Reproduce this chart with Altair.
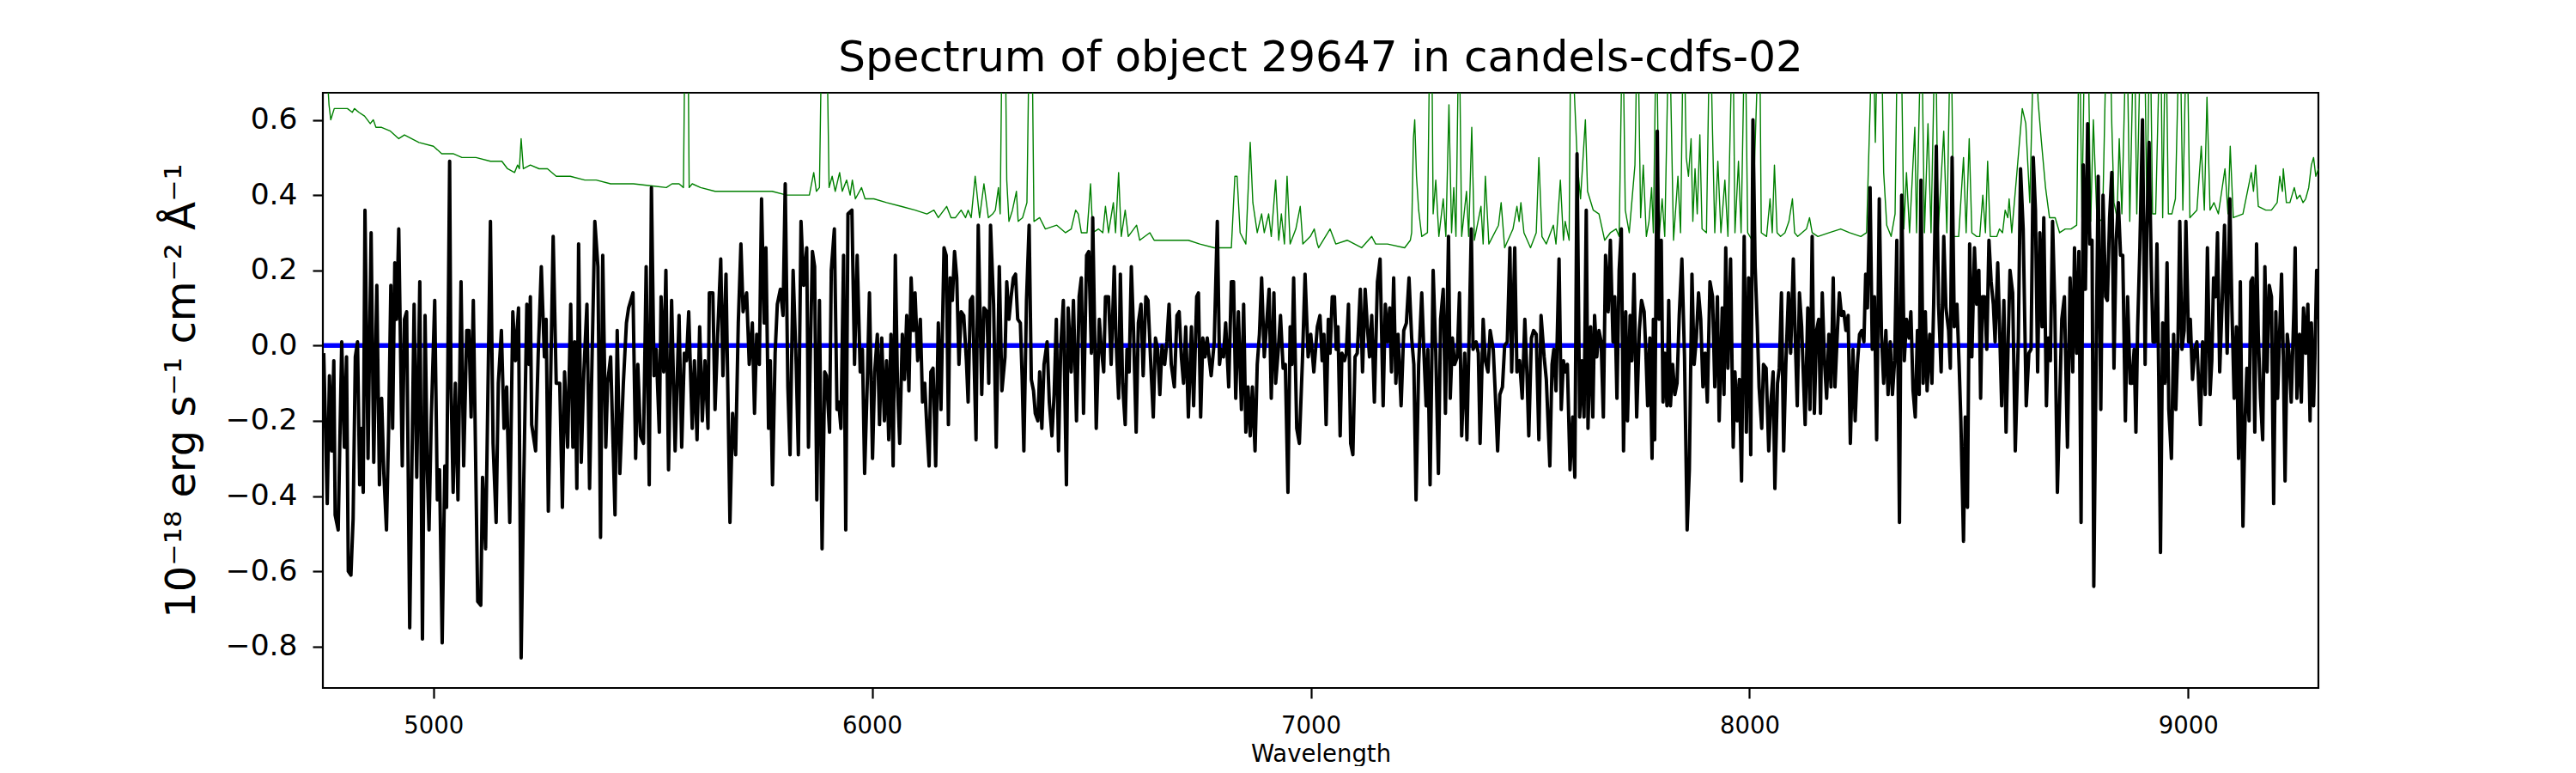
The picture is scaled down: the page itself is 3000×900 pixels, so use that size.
import altair as alt
import pandas as pd

# ---------------- data ----------------
# observed flux (black), wavelength in Angstrom
flux_wave = [
    4750,4758,4763,4768,4773,4776,4783,4791,4797,4802,
    4806,4812,4817,4822,4827,4832,4836,4840,4844,4851,
    4858,4864,4871,4877,4882,4887,4893,4898,4903,4907,
    4912,4916,4921,4929,4934,4939,4946,4956,4962,4969,
    4975,4981,4986,4990,4995,5003,5009,5014,5020,5026,
    5030,5037,5040,5045,5050,5056,5063,5069,5076,5081,
    5086,5091,5101,5108,5112,5119,5130,5136,5143,5148,
    5155,5161,5167,5174,5181,5187,5194,5200,5206,5213,
    5218,5221,5224,5233,5239,5246,5253,5257,5262,5273,
    5280,5288,5294,5299,5306,5313,5318,5322,5327,5331,
    5337,5343,5350,5356,5360,5368,5375,5381,5386,5393,
    5397,5404,5414,5419,5425,5433,5440,5445,5455,5461,
    5466,5472,5479,5485,5492,5497,5503,5508,5515,
    5519,5525,5530,5536,5543,5551,5560,5566,5572,5577,
    5582,5590,5595,5601,5607,5613,5619,5626,5629,5637,
    5642,5648,5655,5660,5667,5676,5682,5689,5695,5701,
    5706,5714,5720,5727,5732,5737,5743,5748,5754,5758,
    5764,5768,5773,5779,5784,5791,5797,5802,5808,5813,
    5820,5827,5832,5838,5844,5851,5855,5864,5869,5874,
    5880,5886,5892,5896,5903,5907,5914,5920,5924,5929,
    5935,5940,5945,5954,5960,5966,5973,5978,5983,5989,
    5994,6001,6006,6012,6017,6022,6028,6033,6038,6043,
    6048,6053,6058,6063,6069,6074,6079,6084,6089,6094,
    6098,6104,6110,6115,6120,6125,6130,6134,6139,6145,
    6151,6157,6164,6169,6174,6178,6183,6188,6193,6198,
    6203,6209,6215,6219,6224,6229,6237,6242,6250,6255,
    6262,6266,6270,
    6277,6283,6290,6296,6303,6307,6312,6317,6322,6327,
    6332,6338,6342,6346,6352,6358,6363,6368,6372,6378,
    6382,6387,6392,6399,6404,6410,6415,6420,6425,6430,
    6436,6443,6447,6454,6459,6466,6472,6477,6482,6489,
    6494,6500,6503,6511,6518,6522,6528,6532,6539,6545,
    6552,6556,6562,6566,6571,6577,6581,6586,6591,6596,
    6602,6607,6613,6618,6624,6629,6635,6641,6646,6651,
    6656,6661,6667,6672,6677,6682,6689,6695,6700,6705,
    6710,6715,6721,6728,6733,6740,6744,6749,6754,6759,
    6764,6769,6773,6780,6787,6792,6796,6801,6806,6813,
    6819,6824,6829,6835,6842,6847,6852,6857,6862,6867,
    6873,6878,6883,6888,6894,6899,6905,6910,6916,6920,
    6926,6931,6937,6942,6948,6953,6957,6961,6968,6974,
    6981,6987,6994,7000,7007,7015,7021,
    7026,7030,7035,7040,7044,7049,7054,7058,7062,7067,
    7071,7077,7081,7086,7091,7096,7101,7106,7113,7118,
    7124,7129,7134,7139,7145,7152,7158,7165,7170,7175,
    7180,7184,7189,7194,7199,7206,7212,7218,7224,7230,
    7235,7240,7246,7253,7258,7263,7267,7272,7279,7285,
    7291,7296,7302,7307,7314,7318,7323,7328,7334,7339,
    7344,7351,7356,7360,7366,7370,7377,7382,7386,7393,
    7398,7404,7409,7416,7420,7426,7431,7437,7442,7448,
    7454,7458,7465,7470,7476,7482,7488,7493,7497,7503,
    7508,7514,7520,7525,7532,7537,7545,7550,7554,7559,
    7566,7571,7576,7580,7585,7591,7597,7602,7607,7613,
    7618,7623,7628,7632,7638,7643,7647,7652,7657,7662,
    7667,7672,7678,7683,7689,7693,7698,7703,7708,7713,
    7718,7722,7728,7732,7737,7743,7749,7754,7760,7764,
    7768,7773,7778,
    7781,7784,7790,7794,7799,7803,7807,7812,7816,7820,
    7825,7830,7835,7840,7846,7852,7858,7863,7869,7874,
    7879,7884,7889,7894,7899,7904,7910,7916,7921,7927,
    7931,7938,7942,7946,7951,7957,7963,7967,7972,7977,
    7982,7988,7993,7998,8003,8008,8013,8018,8022,8028,
    8032,8038,8044,8049,8054,8058,8064,8068,8073,8078,
    8083,8089,8094,8100,8104,8109,8114,8119,8127,8133,
    8138,8143,8148,8153,8158,8162,8166,8171,8176,8181,
    8186,8191,8195,8201,8205,8210,8215,8220,8225,8230,
    8236,8241,8246,8251,8256,8261,8265,8269,8275,8280,
    8285,8290,8296,8301,8306,8311,8316,8321,8326,8331,
    8336,8342,8347,8353,8358,8364,8368,8373,8378,8383,
    8387,8391,8396,8401,8405,8411,8416,8420,8426,8431,
    8437,8443,8448,8454,8458,8462,8467,8473,8478,8482,
    8488,8492,8497,8502,8507,8513,8518,8523,8527,8531,
    8536,8541,8546,8551,8556,8560,8566,8570,8575,8580,
    8585,8590,8594,8600,8606,8613,8618,8624,8631,8637,
    8642,8647,8652,8657,8662,8667,8671,8677,8681,8686,
    8691,8696,8702,8707,8712,8718,8725,8731,8737,8741,
    8746,8751,8756,8761,8766,8771,8776,8781,8785,8791,
    8795,8801,8806,8812,8816,8821,8826,8831,8836,8841,
    8846,8851,8857,8862,8868,8872,8877,8881,8885,8890,
    8896,8902,8906,8911,8916,8920,8925,8929,8933,8937,
    8942,8947,8952,8956,8962,8967,8972,8977,8981,8986,
    8991,8995,9001,9005,9010,9015,9020,9028,9033,9039,
    9044,9050,9054,9058,9063,9067,9072,9078,9083,9089,
    9095,9100,9105,9110,9115,9119,9125,9130,9134,9139,
    9143,9147,9152,9156,9160,9165,9170,9175,9180,9185,
    9190,9195,9200,9204,9208,9213,9217,9221,9226,9230,
    9235,9241,9244,9248,9254,9258,9263,9268,9273,9278,
    9281,9286,9289,9293,9297,
]
flux_value = [
    -0.02,-0.42,-0.08,-0.28,-0.04,-0.45,-0.49,0.01,-0.27,-0.03,
    -0.60,-0.61,-0.46,-0.03,0.01,-0.37,-0.22,-0.39,0.36,-0.30,
    0.30,-0.31,0.16,-0.37,-0.14,-0.34,-0.49,-0.22,0.16,-0.22,
    0.22,0.07,0.31,-0.32,0.07,0.09,-0.75,0.11,-0.35,0.17,
    -0.78,0.08,-0.33,-0.49,-0.20,0.12,-0.41,-0.33,-0.79,-0.32,
    -0.43,0.49,-0.10,-0.39,-0.10,-0.41,0.17,-0.32,0.04,0.04,
    -0.19,0.12,-0.68,-0.69,-0.35,-0.54,0.33,-0.26,-0.47,-0.10,
    0.04,-0.22,-0.11,-0.47,0.09,-0.04,0.10,-0.83,-0.36,0.11,
    -0.05,0.13,-0.21,-0.28,-0.02,0.21,-0.03,0.07,-0.44,0.29,
    -0.10,-0.10,-0.43,-0.07,-0.27,0.11,-0.27,0.01,-0.38,0.27,
    -0.31,-0.07,0.11,-0.38,-0.13,0.33,0.21,-0.51,0.24,-0.27,
    -0.10,-0.03,-0.45,0.04,-0.34,-0.10,0.06,0.10,0.14,-0.30,
    -0.05,-0.24,-0.26,0.21,-0.37,0.42,-0.08,-0.01,-0.23,
    0.13,-0.07,0.20,-0.33,0.12,-0.28,0.08,-0.27,-0.02,-0.04,
    0.09,-0.22,-0.04,-0.25,0.05,-0.20,-0.04,-0.22,0.14,0.14,
    -0.17,0.03,0.23,-0.08,0.19,-0.47,-0.18,-0.29,0.06,0.27,
    0.09,0.14,-0.05,0.06,-0.18,0.03,-0.05,0.39,0.06,0.26,
    -0.22,-0.04,-0.37,-0.02,0.11,0.15,0.08,0.43,-0.11,-0.29,
    0.20,-0.05,-0.29,0.33,0.16,0.26,-0.27,0.25,0.21,-0.41,
    0.12,-0.54,-0.07,-0.08,-0.23,0.20,0.31,-0.17,-0.15,-0.22,
    0.24,-0.49,0.35,0.36,-0.05,0.24,-0.07,-0.01,-0.34,-0.10,
    0.14,-0.30,-0.07,0.03,-0.21,0.02,-0.20,-0.04,-0.25,0.03,
    -0.32,0.24,-0.11,-0.26,0.03,-0.09,0.08,-0.12,0.18,0.04,
    0.14,-0.04,0.07,-0.15,-0.10,-0.22,-0.32,-0.07,-0.06,-0.32,
    0.06,-0.17,0.26,0.24,-0.21,0.18,0.12,0.25,0.18,-0.05,
    0.09,0.08,-0.04,-0.15,0.12,0.13,-0.25,0.32,-0.13,0.10,
    0.09,-0.10,0.32,
    0.11,-0.27,0.21,-0.12,-0.03,0.17,0.07,0.13,0.18,0.19,
    0.07,0.06,-0.08,-0.28,0.12,0.32,-0.09,-0.12,-0.18,-0.20,
    -0.07,-0.22,-0.05,0.01,-0.15,-0.24,-0.13,0.07,-0.28,-0.01,
    0.12,-0.37,0.10,-0.07,0.12,-0.20,0.13,0.18,-0.18,0.24,
    0.25,-0.02,0.34,-0.22,0.07,0.00,-0.07,0.13,0.13,-0.05,
    0.21,0.02,-0.14,0.19,-0.10,-0.21,-0.01,-0.07,0.21,0.04,
    -0.23,0.06,0.11,-0.08,0.13,0.12,-0.04,-0.19,0.02,-0.01,
    -0.13,0.00,-0.05,0.01,0.11,-0.05,-0.11,0.08,0.09,-0.03,
    -0.10,0.05,-0.19,0.05,-0.16,0.13,0.14,-0.19,0.02,-0.03,
    0.02,-0.04,-0.08,0.01,0.33,-0.05,-0.01,-0.03,0.06,-0.11,
    0.17,0.17,-0.14,0.09,-0.17,0.11,-0.23,-0.11,-0.24,-0.11,
    -0.28,-0.05,0.03,0.18,-0.03,0.05,0.15,-0.14,0.14,-0.10,
    -0.01,0.08,-0.06,-0.05,-0.39,0.05,-0.05,0.18,-0.22,-0.26,
    -0.04,0.19,-0.03,0.03,-0.07,0.05,0.08,
    -0.04,0.03,-0.21,0.07,-0.02,0.13,0.13,-0.01,0.05,-0.24,
    -0.02,-0.04,-0.02,0.11,-0.26,-0.29,-0.03,-0.02,0.15,-0.07,
    0.15,0.05,-0.03,0.08,-0.15,0.17,0.23,-0.16,0.11,0.01,
    0.10,-0.07,0.18,-0.10,0.03,-0.16,0.04,0.06,0.18,0.02,
    -0.05,-0.41,-0.05,0.14,-0.02,-0.16,-0.01,-0.37,0.20,-0.02,
    -0.34,0.07,0.15,-0.18,0.29,-0.14,0.02,-0.05,-0.03,0.14,
    -0.24,-0.02,-0.25,-0.03,0.31,-0.01,0.01,-0.02,-0.26,0.07,
    -0.04,-0.07,0.04,-0.01,-0.11,-0.28,-0.13,-0.11,0.00,0.01,
    0.26,-0.07,0.26,-0.07,-0.04,-0.14,0.07,-0.08,-0.24,0.02,
    0.04,0.03,-0.25,0.08,-0.03,-0.09,-0.32,-0.05,-0.01,-0.12,
    0.23,-0.17,-0.04,-0.07,-0.05,-0.33,-0.19,-0.35,0.51,-0.19,
    -0.04,-0.19,0.36,-0.22,0.05,-0.19,0.08,-0.03,0.04,0.01,
    -0.19,0.24,0.09,0.28,0.01,0.13,-0.14,0.20,0.31,-0.28,
    0.09,-0.20,0.08,-0.04,0.19,-0.19,0.04,0.12,0.09,-0.02,
    -0.16,0.02,-0.30,
    0.07,-0.25,0.57,0.07,0.28,-0.15,-0.02,-0.16,0.12,-0.16,
    -0.05,-0.13,-0.10,0.08,0.23,-0.03,-0.49,-0.33,0.19,-0.05,
    0.02,0.14,0.07,-0.11,-0.02,-0.15,0.17,0.13,-0.11,0.13,
    -0.20,0.10,-0.13,0.26,-0.06,0.23,-0.27,-0.07,-0.20,-0.09,
    -0.36,0.29,-0.23,0.18,-0.29,0.60,0.21,0.05,-0.11,-0.22,
    -0.05,-0.06,-0.28,-0.15,-0.07,-0.38,-0.10,-0.06,0.14,-0.28,
    -0.05,0.14,-0.02,0.23,0.04,-0.16,0.14,0.05,-0.21,0.10,
    -0.17,0.29,-0.18,0.04,0.07,-0.18,0.14,-0.04,-0.14,0.03,
    -0.11,0.18,-0.11,0.05,0.14,0.08,0.09,0.04,0.08,-0.26,
    -0.01,-0.20,-0.05,0.03,0.04,0.01,0.19,0.10,0.42,-0.01,
    0.13,-0.25,0.39,0.03,-0.10,0.04,-0.13,0.01,-0.13,-0.04,
    0.28,-0.47,0.40,-0.04,0.07,0.02,0.09,-0.12,-0.19,0.04,
    -0.13,0.44,-0.10,0.09,-0.12,0.03,-0.10,0.11,0.53,0.11,
    -0.07,0.29,0.10,0.04,-0.06,0.50,0.05,0.11,-0.05,-0.20,
    -0.52,-0.19,-0.43,0.27,-0.03,0.26,0.11,0.20,-0.14,0.13,
    0.13,-0.01,0.28,0.17,0.11,0.01,0.22,0.06,-0.16,0.12,
    -0.23,0.02,0.20,0.14,-0.28,0.02,0.47,0.31,-0.16,-0.02,
    -0.01,0.50,0.36,-0.07,0.30,0.05,0.34,-0.16,0.02,-0.04,
    0.33,0.11,-0.39,-0.16,0.07,0.13,-0.27,0.18,-0.07,0.26,
    -0.02,0.25,-0.47,0.48,0.15,0.59,0.27,0.28,-0.64,0.04,
    0.45,-0.17,0.40,0.13,0.12,0.34,0.46,-0.06,0.28,0.38,
    0.24,0.24,-0.20,0.13,-0.10,-0.10,-0.01,-0.23,0.05,0.26,
    0.60,-0.05,0.31,0.54,0.21,0.01,0.01,0.27,-0.08,-0.55,
    0.06,-0.10,0.22,-0.17,-0.30,0.03,-0.17,0.02,0.33,-0.01,
    0.04,0.33,0.01,0.07,-0.09,-0.01,0.01,-0.21,0.01,-0.13,
    0.26,-0.13,-0.04,0.18,0.13,0.30,-0.07,0.13,0.32,-0.02,
    0.39,0.09,-0.14,0.05,-0.30,0.17,-0.48,-0.19,-0.06,-0.20,
    0.17,0.18,-0.23,0.27,0.03,-0.14,-0.25,0.21,-0.07,0.16,
    0.13,-0.42,0.09,-0.14,0.01,0.19,-0.03,-0.36,0.03,-0.02,
    -0.15,0.09,0.26,-0.14,0.03,-0.15,0.10,-0.02,0.11,-0.20,
    0.06,-0.16,-0.03,0.20,0.07,
]

# noise / sky spectrum (green); values above the frame are clipped
noise_wave = [
    4749,4758,4762,4766,4774,4791,4804,4815,4820,4830,
    4843,4856,4863,4869,4882,4902,4921,4934,4967,5000,
    5019,5045,5065,5097,5130,5156,5169,5185,5192,5196,
    5200,5205,5221,5241,5260,5280,5312,5345,5371,5404,
    5456,
    5531,5544,5560,5570,5574,5580,5583,5590,5609,5642,
    5675,5707,5740,5772,5805,5857,5867,5873,5880,5886,
    5896,5902,5909,5916,5926,5932,5942,5950,5955,5962,
    5976,5984,6004,6033,6066,6098,6125,6141,6151,6170,
    6180,6190,6203,6213,6219,6226,6235,6245,6255,6265,
    6275,6281,6288,6292,6297,6303,6307,6312,6320,6329,
    6333,6343,6353,6359,6364,6369,6382,6395,6421,6441,
    6454,6464,6470,6477,6490,6498,6503,6516,6526,6532,
    6539,6550,6555,6562,6568,6577,6584,6603,6610,6633,
    6643,6669,6695,6721,6747,6780,6819,6827,6832,6839,
    6852,6862,6868,6878,6888,6894,6904,6910,6920,6927,
    6933,6940,6946,6953,6966,6976,6982,6999,7008,7015,
    7018,7044,7057,7083,7116,7139,7148,7175,7214,7227,
    7230,7234,7237,7241,7246,7253,7266,7272,7276,7279,
    7285,7292,7302,7308,7315,7321,7326,7331,7338,7344,
    7355,7360,7367,7373,7388,7393,7398,7406,7428,7434,
    7442,7461,7470,7475,7479,7486,7501,7514,7520,7527,
    7537,7553,7559,7569,7576,7580,7589,7593,7602,7608,
    7615,7626,7631,7644,7657,7670,7683,7696,7703,7711,
    7717,7726,7739,7745,7752,7758,7765,
    7771,7777,7781,7788,7794,7801,7807,7817,7827,7837,
    7843,7850,7856,7861,7867,7871,7876,7881,7887,7892,
    7902,7910,7916,7921,7928,7935,7944,7951,7962,7967,
    7975,7981,7990,7996,8006,8023,8027,8039,8047,8052,
    8057,8063,8071,8081,8090,8098,8103,8110,8130,8137,
    8143,8156,8182,8208,8228,8254,8267,8275,8281,8287,
    8293,8300,8306,8313,8323,8332,8338,8345,8352,8358,
    8365,8377,8381,8392,8399,8407,8414,8424,8430,8443,
    8450,8459,8466,8477,8488,8494,8501,8507,8518,
    8525,8532,8538,8543,8549,8564,8570,8577,8583,8589,
    8592,8598,8609,8622,8630,8639,8650,8658,8665,8675,
    8684,8697,8707,8720,8733,8746,8752,8758,8765,8771,
    8778,8784,8792,8805,8815,8821,8826,8831,8838,8843,
    8849,8860,8867,8877,8883,8893,8900,8906,8913,8919,
    8926,8937,8942,8949,8955,8963,8971,8981,8988,8997,
    9004,9020,9030,9037,9043,9050,9059,9069,9084,9091,
    9096,9103,9125,9144,9149,9154,9160,9177,9190,9203,
    9209,9215,9217,9224,9232,9242,9248,9255,9262,9268,
    9275,9281,9286,9291,9297,
]
noise_value = [
    0.90,0.72,0.64,0.60,0.63,0.63,0.63,0.62,0.63,0.62,
    0.61,0.59,0.60,0.58,0.58,0.57,0.55,0.56,0.54,0.53,
    0.51,0.51,0.50,0.50,0.49,0.49,0.47,0.46,0.48,0.47,
    0.55,0.47,0.48,0.47,0.47,0.45,0.45,0.44,0.44,0.43,
    0.43,
    0.42,0.43,0.43,0.42,0.90,0.90,0.42,0.43,0.42,0.41,
    0.41,0.41,0.41,0.41,0.40,0.40,0.46,0.41,0.42,0.90,
    0.90,0.42,0.45,0.41,0.46,0.41,0.44,0.40,0.44,0.39,
    0.42,0.39,0.39,0.38,0.37,0.36,0.35,0.36,0.34,0.37,
    0.34,0.34,0.36,0.34,0.36,0.34,0.45,0.34,0.43,0.34,
    0.35,0.36,0.42,0.35,0.90,0.90,0.44,0.33,0.36,0.41,
    0.33,0.34,0.38,0.90,0.90,0.33,0.34,0.31,0.32,0.30,
    0.31,0.36,0.35,0.30,0.30,0.43,0.30,0.31,0.30,0.37,
    0.30,0.38,0.30,0.46,0.29,0.36,0.29,0.32,0.28,0.30,
    0.28,0.28,0.28,0.28,0.27,0.26,0.26,0.45,0.45,0.30,
    0.27,0.54,0.38,0.30,0.35,0.30,0.35,0.29,0.44,0.28,
    0.35,0.27,0.45,0.27,0.31,0.37,0.27,0.29,0.31,0.27,
    0.26,0.31,0.27,0.28,0.26,0.29,0.27,0.27,0.26,0.28,
    0.30,0.55,0.60,0.45,0.36,0.29,0.30,0.90,0.80,0.35,
    0.44,0.29,0.39,0.29,0.64,0.30,0.42,0.29,0.90,0.29,
    0.41,0.29,0.58,0.28,0.37,0.27,0.45,0.27,0.32,0.38,
    0.26,0.31,0.37,0.33,0.38,0.30,0.26,0.30,0.50,0.29,
    0.27,0.32,0.27,0.44,0.28,0.33,0.28,0.90,0.64,0.48,
    0.39,0.60,0.41,0.36,0.35,0.28,0.30,0.31,0.29,0.90,
    0.36,0.30,0.48,0.90,0.34,0.48,0.29,
    0.33,0.42,0.30,0.90,0.29,0.39,0.29,0.90,0.28,0.45,
    0.30,0.90,0.50,0.45,0.55,0.33,0.47,0.35,0.56,0.31,
    0.30,0.90,0.56,0.30,0.49,0.30,0.44,0.29,0.90,0.30,
    0.49,0.30,0.90,0.30,0.28,0.90,0.30,0.29,0.39,0.30,
    0.48,0.30,0.29,0.30,0.33,0.39,0.30,0.29,0.31,0.34,
    0.30,0.29,0.30,0.31,0.30,0.29,0.30,0.63,0.90,0.54,
    0.90,0.90,0.46,0.32,0.29,0.35,0.90,0.90,0.31,0.46,
    0.30,0.58,0.30,0.90,0.30,0.59,0.30,0.90,0.30,0.57,
    0.30,0.90,0.29,0.29,0.50,0.30,0.55,0.30,0.29,
    0.29,0.40,0.30,0.49,0.29,0.29,0.31,0.30,0.36,0.34,
    0.39,0.30,0.45,0.63,0.59,0.38,0.90,0.65,0.55,0.42,
    0.34,0.34,0.30,0.31,0.31,0.32,0.90,0.34,0.90,0.90,
    0.33,0.60,0.34,0.33,0.90,0.90,0.59,0.38,0.34,0.55,
    0.35,0.90,0.33,0.90,0.35,0.90,0.90,0.35,0.90,0.35,
    0.35,0.90,0.34,0.90,0.35,0.35,0.39,0.90,0.36,0.90,
    0.34,0.36,0.53,0.36,0.66,0.36,0.38,0.35,0.47,0.35,
    0.53,0.34,0.35,0.46,0.41,0.48,0.37,0.36,0.36,0.38,
    0.45,0.41,0.47,0.38,0.38,0.42,0.39,0.40,0.38,0.39,
    0.42,0.48,0.50,0.45,0.47,
]

# continuum model (blue)
cont_wave = [4750, 9240]
cont_value = [0.0, 0.0]

assert len(flux_wave) == len(flux_value)
assert len(noise_wave) == len(noise_value)

x_ticks = [5000, 6000, 7000, 8000, 9000]
y_ticks = [-0.8, -0.6, -0.4, -0.2, 0.0, 0.2, 0.4, 0.6]

FONT = "DejaVu Sans"
W, H = 2324, 693

df_flux = pd.DataFrame({"wave": flux_wave, "value": flux_value})
df_noise = pd.DataFrame({"wave": noise_wave, "value": noise_value})
df_cont = pd.DataFrame({"wave": cont_wave, "value": cont_value})

xs = alt.Scale(domain=[4748, 9297], nice=False, zero=False)
ys = alt.Scale(domain=[-0.91, 0.672], nice=False, zero=False)

x_axis = alt.Axis(
    values=x_ticks, format="d", title="Wavelength",
    labelFont=FONT, labelFontSize=27.5, labelColor="black",
    labelPadding=18, labelFlush=False, labelOverlap=False,
    tickSize=12, tickWidth=2.2, tickColor="black",
    domain=False, grid=False,
    titleFont=FONT, titleFontSize=27.5, titleFontWeight="normal",
    titleColor="black", titleBaseline="alphabetic",
    titleX=W / 2, titleY=85,
)
y_axis = alt.Axis(
    values=y_ticks, format=".1f",
    title="10\u207b\u00b9\u2078 erg s\u207b\u00b9 cm\u207b\u00b2 \u00c5\u207b\u00b9",
    labelFont=FONT, labelFontSize=34.5, labelColor="black",
    labelPadding=18, labelFlush=False, labelOverlap=False,
    tickSize=12, tickWidth=2.2, tickColor="black",
    domain=False, grid=False,
    titleFont=FONT, titleFontSize=48, titleFontWeight="normal",
    titleColor="black", titleBaseline="alphabetic", titleAngle=270,
    titleAlign="center", titleX=-150, titleY=H / 2,
)

cont = alt.Chart(df_cont).mark_line(
    color="#0000ff", strokeWidth=5.5, clip=True
).encode(
    x=alt.X("wave:Q", scale=xs, axis=x_axis),
    y=alt.Y("value:Q", scale=ys, axis=y_axis),
)

noise = alt.Chart(df_noise).mark_line(
    color="#008000", strokeWidth=1.4, clip=True, strokeJoin="round"
).encode(
    x=alt.X("wave:Q", scale=xs),
    y=alt.Y("value:Q", scale=ys),
)

flux = alt.Chart(df_flux).mark_line(
    color="black", strokeWidth=4, clip=True, strokeJoin="round"
).encode(
    x=alt.X("wave:Q", scale=xs),
    y=alt.Y("value:Q", scale=ys),
)

chart = alt.layer(cont, noise, flux).properties(
    width=W, height=H,
    background="white",
    title=alt.TitleParams(
        text="Spectrum of object 29647 in candels-cdfs-02",
        font=FONT, fontSize=50, fontWeight="normal", color="black",
        anchor="middle", baseline="alphabetic", offset=23, dy=48,
    ),
    autosize=alt.AutoSizeParams(type="none"),
    padding={"left": 368, "top": 100, "right": 292, "bottom": 91},
).configure_view(
    stroke="black", strokeWidth=2.2
)

chart.save("out.html", embed_options={"renderer": "svg", "actions": False})
